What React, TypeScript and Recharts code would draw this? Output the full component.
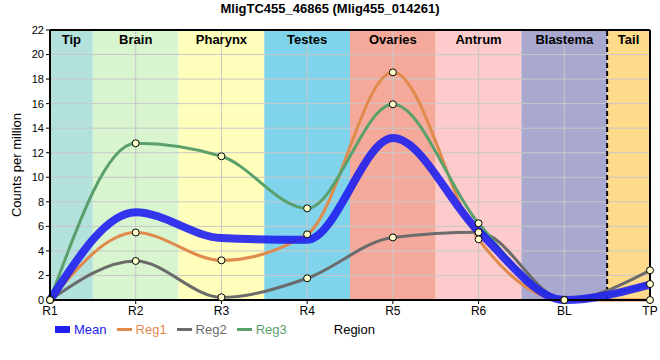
import React from 'react';
import {
  ComposedChart,
  Line,
  XAxis,
  YAxis,
  ReferenceArea,
  ReferenceLine,
  Legend,
} from 'recharts';

const CATEGORIES = ['R1', 'R2', 'R3', 'R4', 'R5', 'R6', 'BL', 'TP'];

const MEAN = [0, 7.15, 5.05, 4.9, 13.2, 5.6, 0, 1.25];
const REG1 = [0, 5.5, 3.23, 5.35, 18.55, 4.95, 0, 0];
const REG2 = [0, 3.18, 0.22, 1.77, 5.1, 5.52, 0.02, 2.42];
const REG3 = [0, 12.77, 11.71, 7.47, 15.95, 6.25, 0, 1.3];

const REGIONS = ['Tip', 'Brain', 'Pharynx', 'Testes', 'Ovaries', 'Antrum', 'Blastema', 'Tail'];
const REGION_COLORS = ['#b3e2dd', '#d8f5d0', '#ffffbb', '#7fd4eb', '#f5a99b', '#fdcbcb', '#a9a8cf', '#feda8b'];

const Y_TICKS = [0, 2, 4, 6, 8, 10, 12, 14, 16, 18, 20, 22];

const SERIES = [
  { key: 'reg1', name: 'Reg1', color: '#e08a4c' },
  { key: 'reg2', name: 'Reg2', color: '#6b6b6b' },
  { key: 'reg3', name: 'Reg3', color: '#5aa06a' },
];
const MEAN_COLOR = '#2020f0';

const data = CATEGORIES.map((c, i) => ({
  x: i,
  cat: c,
  mean: MEAN[i],
  reg1: REG1[i],
  reg2: REG2[i],
  reg3: REG3[i],
}));

const FONT = '"Liberation Sans", Arial, sans-serif';

function renderLegend() {
  const items = [
    { name: 'Mean', color: MEAN_COLOR, thick: true },
    ...SERIES.map((s) => ({ name: s.name, color: s.color, thick: false })),
  ];
  return (
    <div style={{ display: 'flex', alignItems: 'center', fontFamily: FONT, fontSize: 13 }}>
      {items.map((it) => (
        <div key={it.name} style={{ display: 'flex', alignItems: 'center', marginRight: 10 }}>
          <span
            style={{
              display: 'inline-block',
              width: 15,
              height: it.thick ? 7 : 3,
              background: it.color,
              marginRight: 4,
            }}
          />
          <span style={{ color: it.color }}>{it.name}</span>
        </div>
      ))}
      <span style={{ marginLeft: 37, color: '#000' }}>Region</span>
    </div>
  );
}

const dot = { r: 3.5, fill: '#ffffcc', stroke: '#000', strokeWidth: 1 };

export default function App() {
  return (
    <div style={{ position: 'absolute', left: 0, top: 0, width: 660, height: 360, background: '#fff' }}>
      <div
        style={{
          position: 'absolute',
          left: 0,
          top: 1,
          width: 660,
          textAlign: 'center',
          fontFamily: FONT,
          fontWeight: 'bold',
          fontSize: 13,
        }}
      >
        MligTC455_46865 (Mlig455_014261)
      </div>
      <ComposedChart
        width={660}
        height={360}
        data={data}
        margin={{ top: 30, right: 10, bottom: 40, left: 0 }}
        style={{ fontFamily: FONT }}
      >
        {REGIONS.map((r, i) => (
          <ReferenceArea
            key={r}
            x1={i === 0 ? 0 : i - 0.5}
            x2={i === REGIONS.length - 1 ? i : i + 0.5}
            y1={0}
            y2={22}
            fill={REGION_COLORS[i]}
            fillOpacity={1}
            stroke="none"
            label={{ value: r, position: 'insideTop', fill: '#000', fontWeight: 'bold', fontSize: 13 }}
          />
        ))}
        {Y_TICKS.slice(1, -1).map((t) => (
          <ReferenceLine key={'y' + t} y={t} stroke="#c8c8c8" strokeWidth={1} />
        ))}
        {CATEGORIES.slice(1, -1).map((_, i) => (
          <ReferenceLine key={'x' + i} x={i + 1} stroke="#c8c8c8" strokeWidth={1} />
        ))}
        <ReferenceLine x={6.5} stroke="#000" strokeWidth={2} strokeDasharray="5 3" />
        <ReferenceLine y={22} stroke="#000" strokeWidth={2} />
        <ReferenceLine x={7} stroke="#000" strokeWidth={2} />
        <XAxis
          dataKey="x"
          type="number"
          domain={[0, 7]}
          ticks={[0, 1, 2, 3, 4, 5, 6, 7]}
          tickFormatter={(v) => CATEGORIES[v]}
          interval={0}
          height={20}
          axisLine={{ stroke: '#000', strokeWidth: 2 }}
          tickLine={{ stroke: '#000' }}
          tickSize={4}
          tick={{ fill: '#000', fontSize: 12 }}
        />
        <YAxis
          type="number"
          domain={[0, 22]}
          ticks={Y_TICKS}
          interval={0}
          width={50}
          axisLine={{ stroke: '#000', strokeWidth: 2 }}
          tickLine={{ stroke: '#000' }}
          tickSize={4}
          tick={{ fill: '#000', fontSize: 11 }}
          label={{ value: 'Counts per million', angle: -90, position: 'insideLeft', offset: 16, fill: '#000', fontSize: 13, style: { textAnchor: 'middle' } }}
        />
        {SERIES.map((s) => (
          <Line
            key={s.key}
            dataKey={s.key}
            name={s.name}
            type="monotone"
            stroke={s.color}
            strokeWidth={3}
            dot={false}
            activeDot={false}
            isAnimationActive={false}
          />
        ))}
        <Line
          dataKey="mean"
          name="Mean"
          type="monotone"
          stroke={MEAN_COLOR}
          strokeOpacity={0.9}
          strokeWidth={8}
          dot={false}
          activeDot={false}
          isAnimationActive={false}
        />
        {SERIES.map((s) => (
          <Line
            key={s.key + '-dots'}
            dataKey={s.key}
            legendType="none"
            stroke="none"
            dot={dot}
            activeDot={false}
            isAnimationActive={false}
          />
        ))}
        <Legend
          layout="horizontal"
          verticalAlign="middle"
          align="center"
          content={renderLegend}
          wrapperStyle={{ position: 'absolute', left: 55, top: 322, width: 400, height: 20 }}
        />
      </ComposedChart>
    </div>
  );
}
